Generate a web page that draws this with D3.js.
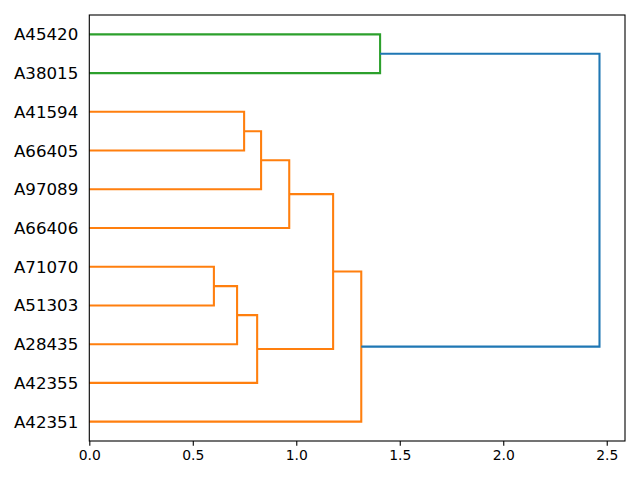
<!DOCTYPE html>
<html><head><meta charset="utf-8">
<script src="https://cdn.jsdelivr.net/npm/d3@7"></script>
<style>body{margin:0;background:#fff}svg{display:block}text{font-family:"DejaVu Sans",sans-serif}</style>
</head><body><svg id="c" width="640" height="480"></svg>
<script>
// Leaves, top to bottom
const leaves = ["A45420","A38015","A41594","A66405","A97089","A66406","A71070","A51303","A28435","A42355","A42351"];
// Merges (node ids: leaves 0..10, merged clusters 11..)
const mergeLeft   = [2, 11, 12, 6, 14, 15, 13, 17, 0, 19];
const mergeRight  = [3, 4, 5, 7, 8, 9, 16, 10, 1, 18];
const mergeHeight = [0.748, 0.830, 0.966, 0.602, 0.714, 0.811, 1.178, 1.314, 1.405, 2.465];
const mergeColor  = ["C1","C1","C1","C1","C1","C1","C1","C1","C2","C0"];
const xTicks = [0.0, 0.5, 1.0, 1.5, 2.0, 2.5];

const palette = {C0:"#1f77b4", C1:"#ff7f0e", C2:"#2ca02c"};
const svg = d3.select("#c");
const L = 89.3, R = 625, T = 15, B = 441;
const n = leaves.length;
const x = d3.scaleLinear().domain([0, d3.max(mergeHeight)*1.05]).range([L, R]);
const y = d3.scaleLinear().domain([-0.5, n - 0.5]).range([T, B]);

// node positions
const pos = leaves.map((d, i) => ({p: i, h: 0}));
mergeLeft.forEach((a, k) => {
  const b = mergeRight[k];
  pos.push({p: (pos[a].p + pos[b].p) / 2, h: mergeHeight[k]});
});

const g = svg.append("g");
mergeLeft.forEach((a, k) => {
  const b = mergeRight[k];
  const h = mergeHeight[k];
  const pts = [[x(pos[a].h), y(pos[a].p)], [x(h), y(pos[a].p)], [x(h), y(pos[b].p)], [x(pos[b].h), y(pos[b].p)]];
  g.append("path").attr("d", d3.line()(pts)).attr("fill","none")
    .attr("stroke", palette[mergeColor[k]]).attr("stroke-width", 2.08)
    .attr("stroke-linejoin","miter").attr("stroke-linecap","butt");
});

// leaf labels
svg.append("g").selectAll("text").data(leaves).join("text")
  .attr("x", L - 11).attr("y", (d, i) => y(i)).attr("dy", "0.36em")
  .attr("text-anchor", "end").attr("font-size", "16.67px").attr("fill", "#000").text(d => d);

// x axis
const ax = svg.append("g").attr("transform", `translate(0,${B})`)
  .call(d3.axisBottom(x).tickValues(xTicks).tickFormat(d3.format(".1f")).tickSizeOuter(0).tickSizeInner(4.86).tickPadding(4.2));
ax.select(".domain").remove();
ax.selectAll("line").attr("stroke", "#000").attr("stroke-width", 1.1);
ax.selectAll("text").attr("font-size", "13.9px").attr("font-family", "DejaVu Sans").attr("fill", "#000");

// frame
svg.append("rect").attr("x", L).attr("y", T).attr("width", R - L).attr("height", B - T)
  .attr("fill", "none").attr("stroke", "#000").attr("stroke-width", 1.1);
</script></body></html>
